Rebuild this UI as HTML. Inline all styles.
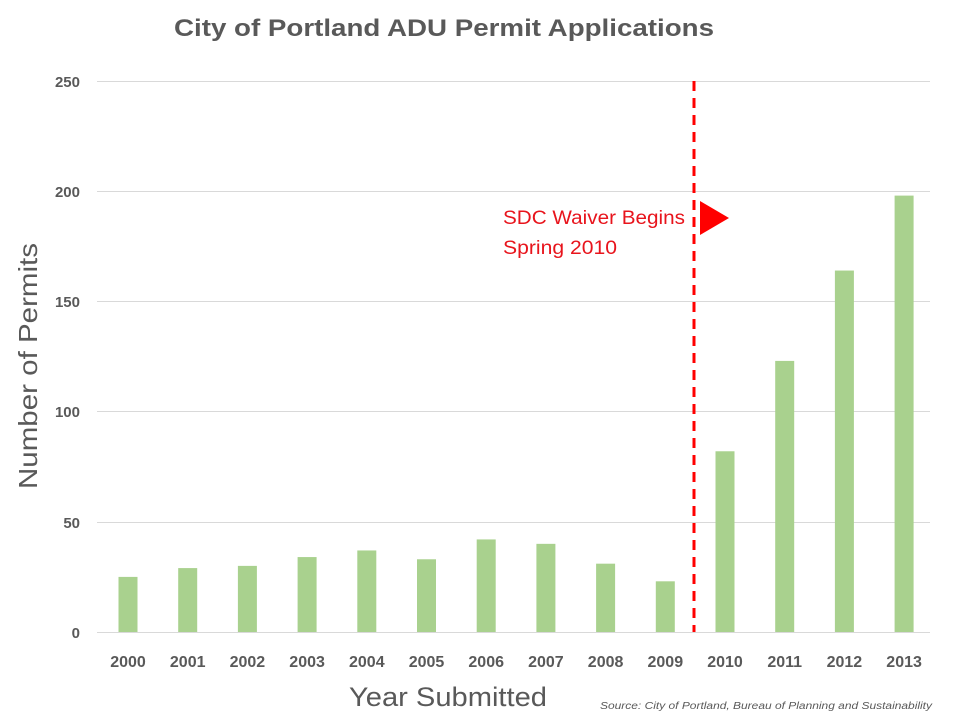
<!DOCTYPE html>
<html><head><meta charset="utf-8"><style>
body{margin:0;background:#fff;}
svg text{font-family:"Liberation Sans",sans-serif;}
</style></head><body>
<svg width="960" height="720" viewBox="0 0 960 720" xmlns="http://www.w3.org/2000/svg">
<rect width="960" height="720" fill="#fff"/>
<text x="444" y="36" text-anchor="middle" font-size="24" font-weight="bold" fill="#595959" textLength="540" lengthAdjust="spacingAndGlyphs">City of Portland ADU Permit Applications</text>
<g stroke="#d9d9d9" stroke-width="1">
<line x1="97" x2="930" y1="81.5" y2="81.5"/>
<line x1="97" x2="930" y1="191.5" y2="191.5"/>
<line x1="97" x2="930" y1="301.5" y2="301.5"/>
<line x1="97" x2="930" y1="411.5" y2="411.5"/>
<line x1="97" x2="930" y1="522.5" y2="522.5"/>
<line x1="97" x2="930" y1="632.5" y2="632.5"/>
</g>
<g font-size="15" font-weight="bold" fill="#595959" text-anchor="end">
<text x="80" y="87">250</text><text x="80" y="197">200</text><text x="80" y="307">150</text>
<text x="80" y="417">100</text><text x="80" y="528">50</text><text x="80" y="638">0</text>
</g>
<text transform="translate(37,366) rotate(-90)" text-anchor="middle" font-size="26" fill="#595959" textLength="246" lengthAdjust="spacingAndGlyphs">Number of Permits</text>
<g fill="#a9d18e" id="bars"></g>
<g font-size="16" font-weight="bold" fill="#595959" text-anchor="middle" id="xl"></g>
<line x1="694" x2="694" y1="81" y2="632" stroke="#ff0000" stroke-width="3" stroke-dasharray="10,7"/>
<text x="503" y="224" font-size="19" fill="#e8141c" textLength="182" lengthAdjust="spacingAndGlyphs">SDC Waiver Begins</text>
<text x="503" y="254" font-size="19" fill="#e8141c" textLength="114" lengthAdjust="spacingAndGlyphs">Spring 2010</text>
<polygon points="700,201 700,235 729,218" fill="#ff0000"/>
<text x="448" y="706" text-anchor="middle" font-size="27" fill="#595959" textLength="198" lengthAdjust="spacingAndGlyphs">Year Submitted</text>
<text x="932" y="709" text-anchor="end" font-size="10" font-style="italic" fill="#595959" textLength="332" lengthAdjust="spacingAndGlyphs">Source: City of Portland, Bureau  of Planning and Sustainability</text>
<script>
var v=[25,29,30,34,37,33,42,40,31,23,82,123,164,198],b=document.getElementById('bars'),l=document.getElementById('xl'),ns='http://www.w3.org/2000/svg';
v.forEach(function(d,i){var cx=128+i*59.7,h=d*2.204;var r=document.createElementNS(ns,'rect');r.setAttribute('x',cx-9.5);r.setAttribute('y',632-h);r.setAttribute('width',19);r.setAttribute('height',h);b.appendChild(r);
var t=document.createElementNS(ns,'text');t.setAttribute('x',cx);t.setAttribute('y',667);t.textContent=2000+i;l.appendChild(t);});
</script>
</svg>
</body></html>
